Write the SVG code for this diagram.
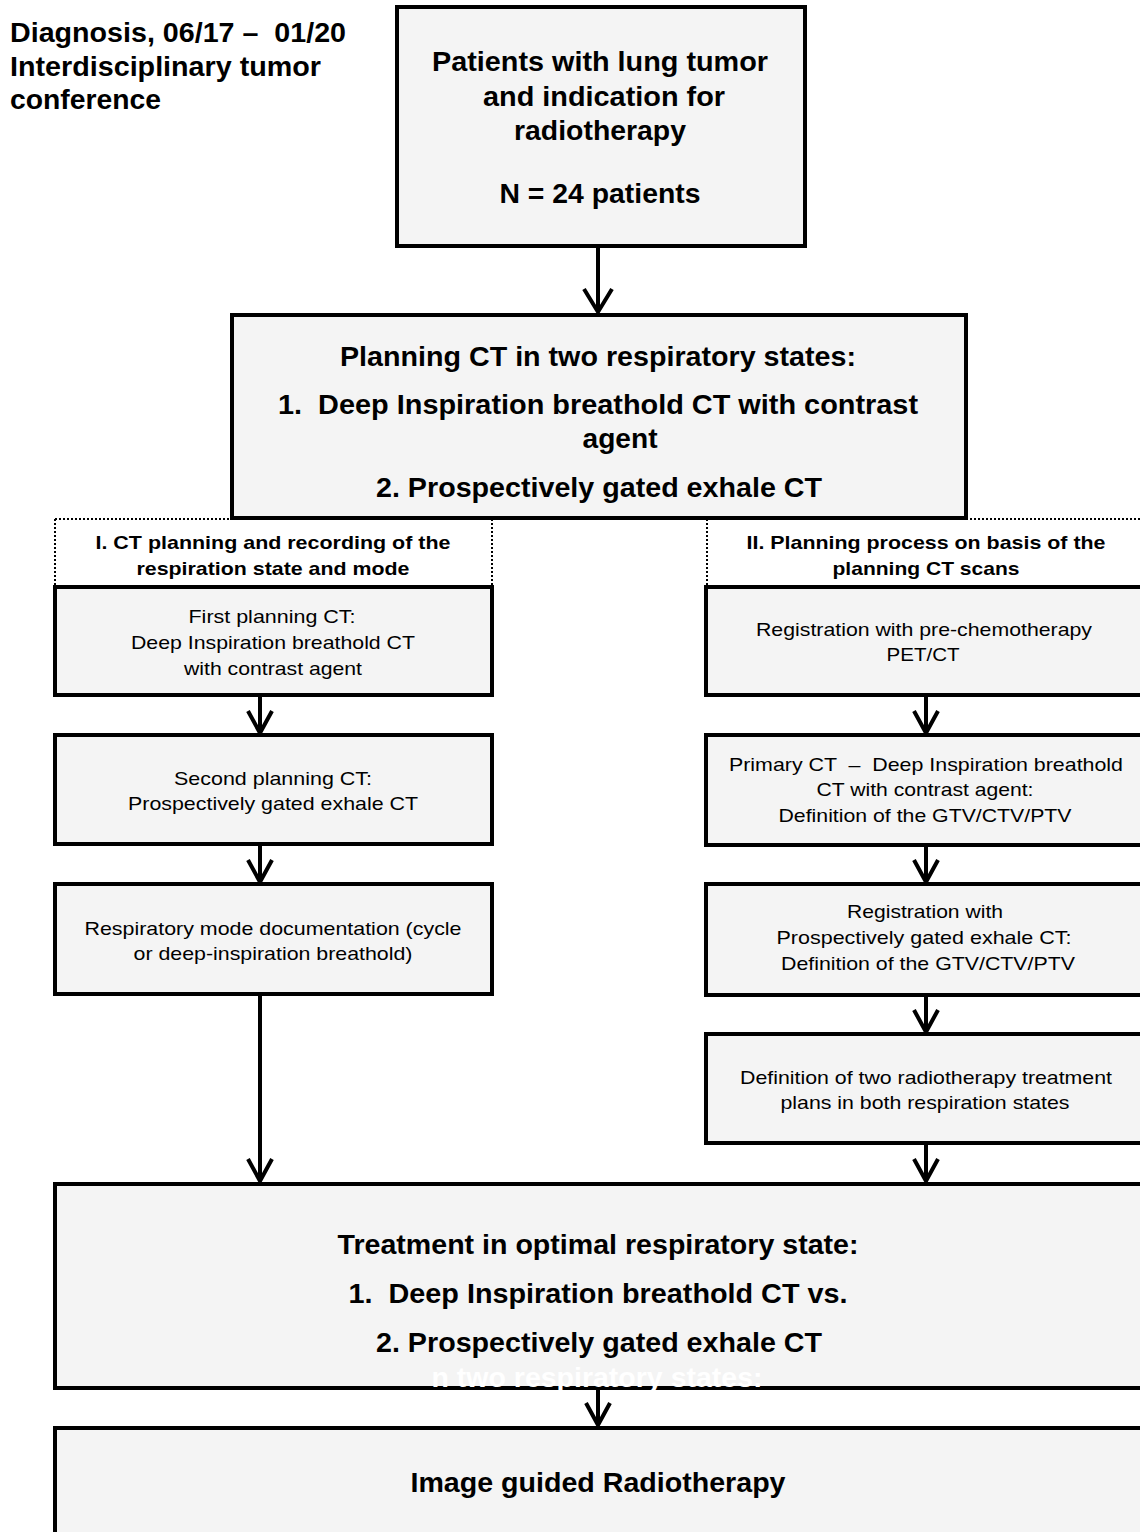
<svg xmlns="http://www.w3.org/2000/svg" width="1140" height="1532" viewBox="0 0 1140 1532" xml:space="preserve">
<style>
.box{fill:#f4f4f4;stroke:#000;stroke-width:4}
.dot{fill:none;stroke:#000;stroke-width:2;stroke-dasharray:2 2}
.ln{fill:none;stroke:#000;stroke-width:4}
text{white-space:pre}
.b{font-family:"Liberation Sans",Arial,sans-serif;font-weight:bold;fill:#000}
.r{font-family:"Liberation Sans",Arial,sans-serif;font-size:19px;fill:#000;text-anchor:middle}
.big{font-size:28px;text-anchor:middle}
.lab{font-size:19px;text-anchor:middle}
</style>
<rect width="1140" height="1532" fill="#fff"/>
<g id="header">
<text class="b" font-size="27" x="10" y="42" textLength="336" lengthAdjust="spacingAndGlyphs">Diagnosis, 06/17 –  01/20</text>
<text class="b" font-size="27" x="10" y="76" textLength="311" lengthAdjust="spacingAndGlyphs">Interdisciplinary tumor</text>
<text class="b" font-size="27" x="10" y="109" textLength="151" lengthAdjust="spacingAndGlyphs">conference</text>
</g>
<g id="connectors">
<line class="ln" x1="598" y1="246" x2="598" y2="312"/>
<polyline class="ln" points="584,289 598,312 612,289"/>
<line class="dot" x1="55" y1="519" x2="232" y2="519"/>
<line class="dot" x1="55" y1="519" x2="55" y2="587"/>
<line class="dot" x1="492" y1="519" x2="492" y2="587"/>
<line class="dot" x1="966" y1="519" x2="1140" y2="519"/>
<line class="dot" x1="707" y1="519" x2="707" y2="587"/>
<line class="ln" x1="260" y1="695" x2="260" y2="733"/>
<polyline class="ln" points="248,711 260,733 272,711"/>
<line class="ln" x1="260" y1="844" x2="260" y2="882"/>
<polyline class="ln" points="248,860 260,882 272,860"/>
<line class="ln" x1="260" y1="994" x2="260" y2="1181"/>
<polyline class="ln" points="248,1159 260,1181 272,1159"/>
<line class="ln" x1="926" y1="695" x2="926" y2="733"/>
<polyline class="ln" points="914,711 926,733 938,711"/>
<line class="ln" x1="926" y1="845" x2="926" y2="882"/>
<polyline class="ln" points="914,860 926,882 938,860"/>
<line class="ln" x1="926" y1="995" x2="926" y2="1032"/>
<polyline class="ln" points="914,1010 926,1032 938,1010"/>
<line class="ln" x1="926" y1="1143" x2="926" y2="1181"/>
<polyline class="ln" points="914,1159 926,1181 938,1159"/>
<line class="ln" x1="598" y1="1388" x2="598" y2="1425"/>
<polyline class="ln" points="586,1403 598,1425 610,1403"/>
</g>
<g id="n-patients">
<rect class="box" x="397" y="7" width="408" height="239"/>
<text class="b big" font-size="27" x="600" y="71" textLength="336" lengthAdjust="spacingAndGlyphs">Patients with lung tumor</text>
<text class="b big" font-size="27" x="604" y="106" textLength="242" lengthAdjust="spacingAndGlyphs">and indication for</text>
<text class="b big" font-size="27" x="600" y="140" textLength="172" lengthAdjust="spacingAndGlyphs">radiotherapy</text>
<text class="b big" font-size="27" x="600" y="203" textLength="201" lengthAdjust="spacingAndGlyphs">N = 24 patients</text>
</g>
<g id="n-planning">
<rect class="box" x="232" y="315" width="734" height="203"/>
<text class="b big" x="598" y="366" textLength="516" lengthAdjust="spacingAndGlyphs">Planning CT in two respiratory states:</text>
<text class="b big" x="598" y="414" textLength="640" lengthAdjust="spacingAndGlyphs">1.  Deep Inspiration breathold CT with contrast</text>
<text class="b big" x="620" y="448" textLength="75" lengthAdjust="spacingAndGlyphs">agent</text>
<text class="b big" x="599" y="497" textLength="446" lengthAdjust="spacingAndGlyphs">2. Prospectively gated exhale CT</text>
</g>
<g id="n-label1">
<text class="b lab" x="273" y="549" textLength="355" lengthAdjust="spacingAndGlyphs">I. CT planning and recording of the</text>
<text class="b lab" x="273" y="575" textLength="273" lengthAdjust="spacingAndGlyphs">respiration state and mode</text>
</g>
<g id="n-label2">
<text class="b lab" x="926" y="549" textLength="359" lengthAdjust="spacingAndGlyphs">II. Planning process on basis of the</text>
<text class="b lab" x="926" y="575" textLength="187" lengthAdjust="spacingAndGlyphs">planning CT scans</text>
</g>
<g id="n-first">
<rect class="box" x="55" y="587" width="437" height="108"/>
<text class="r" x="272" y="623" textLength="167" lengthAdjust="spacingAndGlyphs">First planning CT:</text>
<text class="r" x="273" y="649" textLength="284" lengthAdjust="spacingAndGlyphs">Deep Inspiration breathold CT</text>
<text class="r" x="273" y="675" textLength="178" lengthAdjust="spacingAndGlyphs">with contrast agent</text>
</g>
<g id="n-second">
<rect class="box" x="55" y="735" width="437" height="109"/>
<text class="r" x="273" y="785" textLength="198" lengthAdjust="spacingAndGlyphs">Second planning CT:</text>
<text class="r" x="273" y="810" textLength="290" lengthAdjust="spacingAndGlyphs">Prospectively gated exhale CT</text>
</g>
<g id="n-mode">
<rect class="box" x="55" y="884" width="437" height="110"/>
<text class="r" x="273" y="935" textLength="377" lengthAdjust="spacingAndGlyphs">Respiratory mode documentation (cycle</text>
<text class="r" x="273" y="960" textLength="279" lengthAdjust="spacingAndGlyphs">or deep-inspiration breathold)</text>
</g>
<g id="n-registration-pet">
<rect class="box" x="706" y="587" width="450" height="108"/>
<text class="r" x="924" y="636" textLength="336" lengthAdjust="spacingAndGlyphs">Registration with pre-chemotherapy</text>
<text class="r" x="923" y="661" textLength="73" lengthAdjust="spacingAndGlyphs">PET/CT</text>
</g>
<g id="n-primary">
<rect class="box" x="706" y="735" width="450" height="110"/>
<text class="r" x="926" y="771" textLength="394" lengthAdjust="spacingAndGlyphs">Primary CT  –  Deep Inspiration breathold</text>
<text class="r" x="925" y="796" textLength="217" lengthAdjust="spacingAndGlyphs">CT with contrast agent:</text>
<text class="r" x="925" y="822" textLength="293" lengthAdjust="spacingAndGlyphs">Definition of the GTV/CTV/PTV</text>
</g>
<g id="n-registration-exhale">
<rect class="box" x="706" y="884" width="450" height="111"/>
<text class="r" x="925" y="918" textLength="156" lengthAdjust="spacingAndGlyphs">Registration with</text>
<text class="r" x="924" y="944" textLength="295" lengthAdjust="spacingAndGlyphs">Prospectively gated exhale CT:</text>
<text class="r" x="928" y="970" textLength="294" lengthAdjust="spacingAndGlyphs">Definition of the GTV/CTV/PTV</text>
</g>
<g id="n-plans">
<rect class="box" x="706" y="1034" width="450" height="109"/>
<text class="r" x="926" y="1084" textLength="372" lengthAdjust="spacingAndGlyphs">Definition of two radiotherapy treatment</text>
<text class="r" x="925" y="1109" textLength="289" lengthAdjust="spacingAndGlyphs">plans in both respiration states</text>
</g>
<g id="n-treatment">
<rect class="box" x="55" y="1184" width="1100" height="204"/>
<text class="b big" x="598" y="1254" textLength="521" lengthAdjust="spacingAndGlyphs">Treatment in optimal respiratory state:</text>
<text class="b big" x="598" y="1303" textLength="499" lengthAdjust="spacingAndGlyphs">1.  Deep Inspiration breathold CT vs.</text>
<text class="b big" x="599" y="1352" textLength="446" lengthAdjust="spacingAndGlyphs">2. Prospectively gated exhale CT</text>
</g>
<text class="b big" x="597" y="1387" textLength="331" lengthAdjust="spacingAndGlyphs" style="fill:#fff">n two respiratory states:</text>
<g id="n-igrt">
<rect class="box" x="55" y="1428" width="1100" height="120"/>
<text class="b big" x="598" y="1492" textLength="375" lengthAdjust="spacingAndGlyphs">Image guided Radiotherapy</text>
</g>
</svg>
